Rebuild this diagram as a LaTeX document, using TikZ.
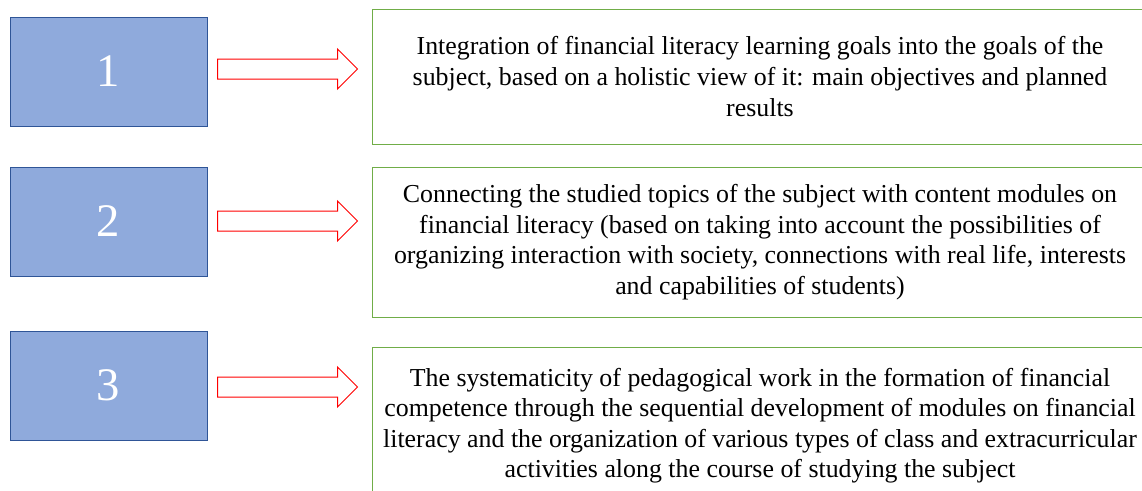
\documentclass[tikz,border=0pt]{standalone}
\usepackage{fontspec}
\setmainfont{Liberation Serif}
\usetikzlibrary{calc}
\definecolor{boxblue}{HTML}{8FAADC}
\definecolor{boxedge}{HTML}{2F5597}
\definecolor{arrowred}{HTML}{FF0000}
\definecolor{goalgreen}{HTML}{70AD47}
\newcommand{\pxl}{0.75pt}

\begin{document}
\begin{tikzpicture}[x=0.75pt, y=-0.75pt]
\tikzstyle{stage}=[rectangle, draw=boxedge, fill=boxblue, line width=\pxl, minimum width=197*\pxl, minimum height=109*\pxl, text=white, font=\fontsize{35}{40}\selectfont]
\tikzstyle{goal}=[rectangle, draw=goalgreen, line width=\pxl, inner sep=0pt, minimum width=776*\pxl, align=center, font=\fontsize{19.4}{22.9}\selectfont]
\tikzstyle{blockarrow}=[draw=arrowred, fill=white, line width=\pxl]

\useasboundingbox (0,0) rectangle (1142,490);

% numbered stages with their arrows
\foreach \n/\y/\ay in {1/71.5/69, 2/221.5/221, 3/385.5/387} {
    \node[stage] (s\n) at (108.5, \y) {\n};
    \coordinate (a\n) at ($(s\n.east)+(10, \ay-\y)$);
    \draw[blockarrow] (a\n) ++(0,-10) -- ++(120,0) -- ++(0,-10) -- ++(20,20) -- ++(-20,20) -- ++(0,-10) -- ++(-120,0) -- cycle;
};

% goal texts
\node[goal, minimum height=135*\pxl] (g1) at (760, 76.5) {Integration of financial literacy learning goals into the goals of the\\ subject, based on a holistic view of it: main objectives and planned\\ results};
\node[goal, minimum height=150*\pxl] (g2) at (760, 242) {Connecting the studied topics of the subject with content modules on\\ financial literacy (based on taking into account the possibilities of\\ organizing interaction with society, connections with real life, interests\\ and capabilities of students)};
\node[goal, minimum height=157*\pxl] (g3) at (760, 425.5) {The systematicity of pedagogical work in the formation of financial\\ competence through the sequential development of modules on financial\\ literacy and the organization of various types of class and extracurricular\\ activities along the course of studying the subject};

\end{tikzpicture}
\end{document}
